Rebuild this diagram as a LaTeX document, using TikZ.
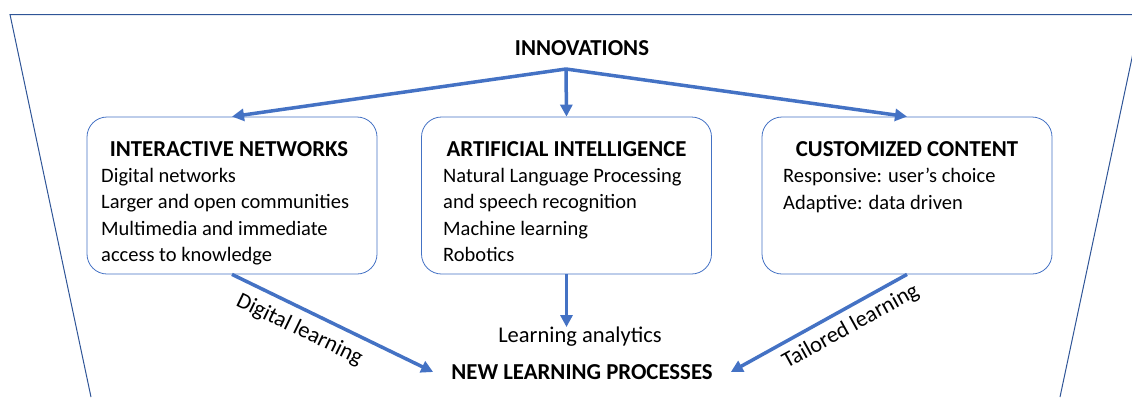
\documentclass[tikz,border=0pt]{standalone}
\usepackage{fontspec}
\setmainfont{Carlito}
\usetikzlibrary{arrows.meta}
\definecolor{frameblue}{HTML}{2F5597}
\definecolor{flowblue}{HTML}{4472C4}
\tikzset{
	box/.style={draw=flowblue, line width=0.8pt, rounded corners=20pt, minimum width=290pt, minimum height=157pt},
	head/.style={inner sep=0pt, font=\bfseries\fontsize{22.8}{26}\selectfont},
	body/.style={inner sep=0pt, anchor=north west, align=left, font=\fontsize{20.5}{26.5}\selectfont},
	label/.style={inner sep=0pt, font=\fontsize{22.5}{26}\selectfont},
	flow/.style={draw=flowblue, line width=3.5pt, -{Triangle[length=12pt,width=12pt]}}
}
\begin{document}
\begin{tikzpicture}[x=1pt, y=-1pt]
	\clip (0,0) rectangle (1132,397);
	% funnel outline
	\draw[frameblue, line width=1pt] (91,397) -- (10,14.5) -- (1145,14.5);
	\draw[frameblue, line width=1pt] (1143,6) -- (1060,397);

	\node[head] (inno) at (582,48) {INNOVATIONS};
	\coordinate (split) at (566,69);

	\node[box] (net) at (232,195.5) {};
	\node[box] (ai) at (566.5,195.5) {};
	\node[box] (cc) at (907,195.5) {};

	\node[head] (netH) at (229,149) {INTERACTIVE NETWORKS};
	\node[body] (netB) at (101,168) {Digital networks\\ Larger and open communities\\ Multimedia and immediate\\ access to knowledge};
	\node[head] (aiH) at (566.5,149) {ARTIFICIAL INTELLIGENCE};
	\node[body] (aiB) at (443,168) {Natural Language Processing\\ and speech recognition\\ Machine learning\\ Robotics};
	\node[head] (ccH) at (907,149) {CUSTOMIZED CONTENT};
	\node[body] (ccB) at (783,168) {Responsive: user’s choice\\ Adaptive: data driven};

	\node[label] (analytics) at (580,337) {Learning analytics};
	\node[head, inner xsep=18pt] (nlp) at (582,372) {NEW LEARNING PROCESSES};

	\foreach \b in {net, ai, cc}
		\draw[flow] (split) -- (\b.north);

	\draw[flow] (net.south) -- (nlp.west)
		node[label, sloped, pos=0.38, below=9pt] (digi) {Digital learning};
	\draw[flow] (ai.south) -- (ai.south |- analytics.north);
	\draw[flow] (cc.south) -- (nlp.east)
		node[label, sloped, pos=0.37, below=7pt] (tail) {Tailored learning};
\end{tikzpicture}
\end{document}
